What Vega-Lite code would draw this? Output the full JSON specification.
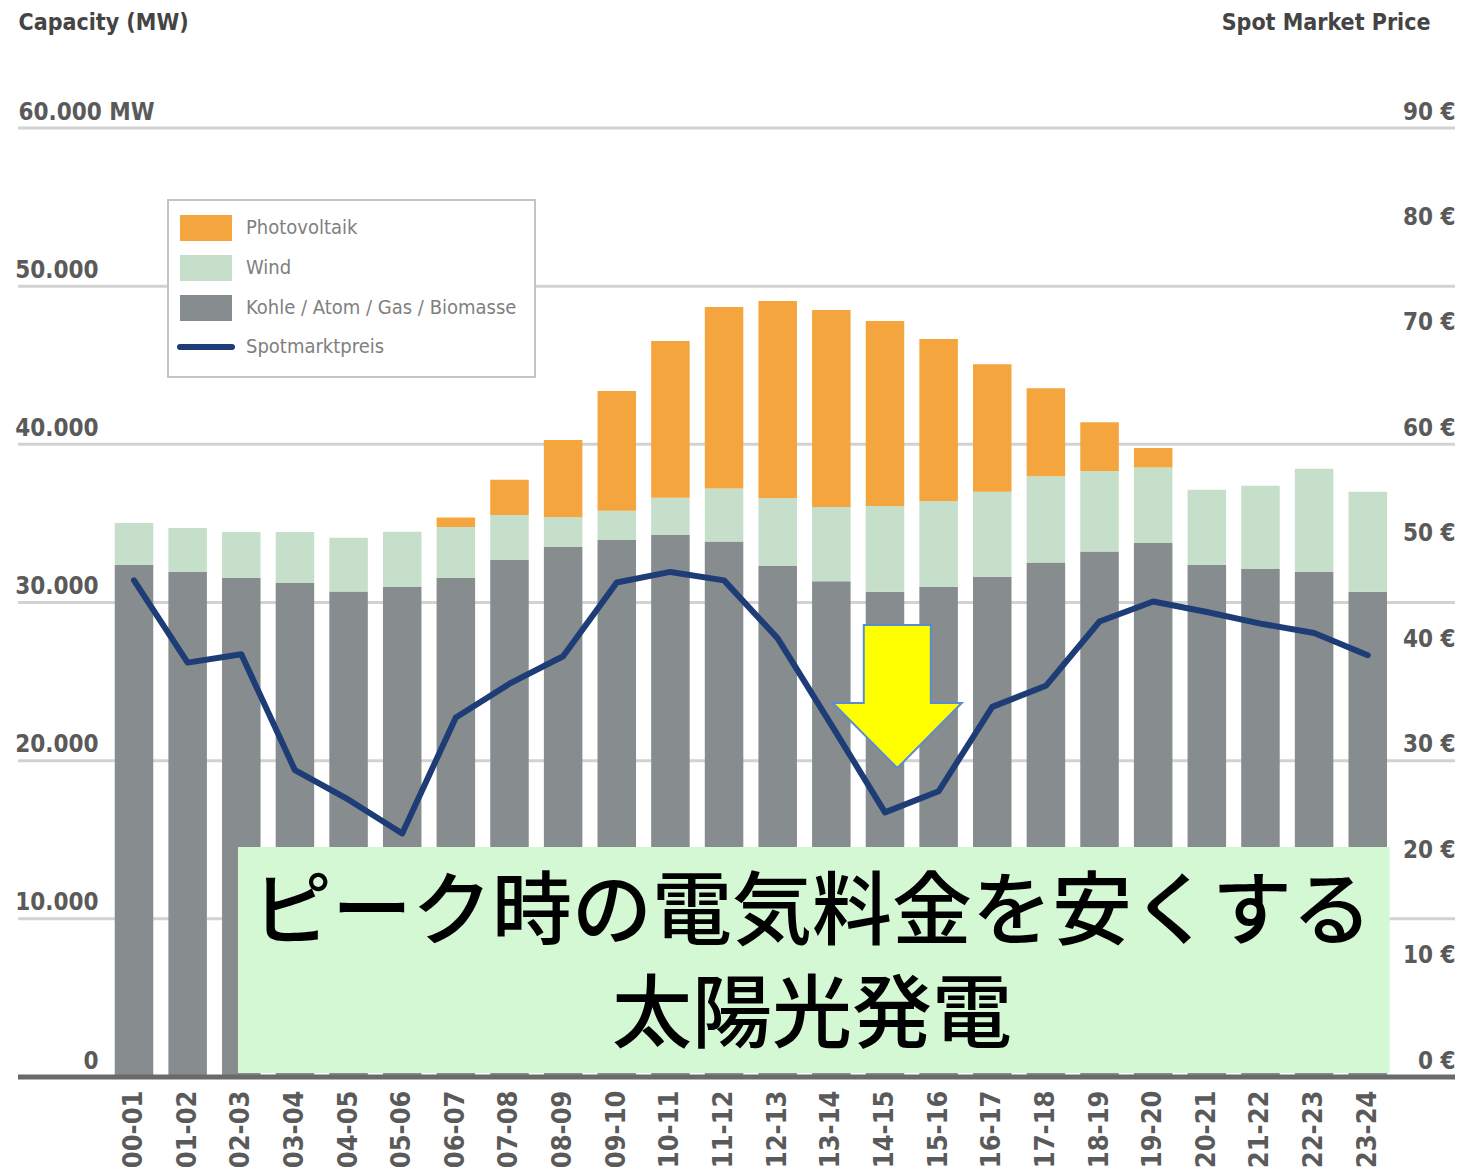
{
  "$schema": "https://vega.github.io/schema/vega-lite/v6.json",
  "width": 1437,
  "height": 949,
  "autosize": {"type": "none"},
  "padding": {"left": 18, "top": 128, "right": 6, "bottom": 96},
  "background": "white",
  "config": {"view": {"stroke": null}, "font": "DejaVu Sans Condensed, Roboto, sans-serif"},
  "datasets": {
    "capacity": [
      {"hour": "00-01", "source": "Kohle / Atom / Gas / Biomasse", "mw": 32370},
      {"hour": "00-01", "source": "Wind", "mw": 2650},
      {"hour": "00-01", "source": "Photovoltaik", "mw": 0},
      {"hour": "01-02", "source": "Kohle / Atom / Gas / Biomasse", "mw": 31930},
      {"hour": "01-02", "source": "Wind", "mw": 2780},
      {"hour": "01-02", "source": "Photovoltaik", "mw": 0},
      {"hour": "02-03", "source": "Kohle / Atom / Gas / Biomasse", "mw": 31550},
      {"hour": "02-03", "source": "Wind", "mw": 2910},
      {"hour": "02-03", "source": "Photovoltaik", "mw": 0},
      {"hour": "03-04", "source": "Kohle / Atom / Gas / Biomasse", "mw": 31230},
      {"hour": "03-04", "source": "Wind", "mw": 3230},
      {"hour": "03-04", "source": "Photovoltaik", "mw": 0},
      {"hour": "04-05", "source": "Kohle / Atom / Gas / Biomasse", "mw": 30700},
      {"hour": "04-05", "source": "Wind", "mw": 3400},
      {"hour": "04-05", "source": "Photovoltaik", "mw": 0},
      {"hour": "05-06", "source": "Kohle / Atom / Gas / Biomasse", "mw": 30980},
      {"hour": "05-06", "source": "Wind", "mw": 3500},
      {"hour": "05-06", "source": "Photovoltaik", "mw": 0},
      {"hour": "06-07", "source": "Kohle / Atom / Gas / Biomasse", "mw": 31550},
      {"hour": "06-07", "source": "Wind", "mw": 3220},
      {"hour": "06-07", "source": "Photovoltaik", "mw": 600},
      {"hour": "07-08", "source": "Kohle / Atom / Gas / Biomasse", "mw": 32680},
      {"hour": "07-08", "source": "Wind", "mw": 2850},
      {"hour": "07-08", "source": "Photovoltaik", "mw": 2230},
      {"hour": "08-09", "source": "Kohle / Atom / Gas / Biomasse", "mw": 33510},
      {"hour": "08-09", "source": "Wind", "mw": 1890},
      {"hour": "08-09", "source": "Photovoltaik", "mw": 4870},
      {"hour": "09-10", "source": "Kohle / Atom / Gas / Biomasse", "mw": 33950},
      {"hour": "09-10", "source": "Wind", "mw": 1850},
      {"hour": "09-10", "source": "Photovoltaik", "mw": 7570},
      {"hour": "10-11", "source": "Kohle / Atom / Gas / Biomasse", "mw": 34270},
      {"hour": "10-11", "source": "Wind", "mw": 2350},
      {"hour": "10-11", "source": "Photovoltaik", "mw": 9910},
      {"hour": "11-12", "source": "Kohle / Atom / Gas / Biomasse", "mw": 33850},
      {"hour": "11-12", "source": "Wind", "mw": 3350},
      {"hour": "11-12", "source": "Photovoltaik", "mw": 11480},
      {"hour": "12-13", "source": "Kohle / Atom / Gas / Biomasse", "mw": 32300},
      {"hour": "12-13", "source": "Wind", "mw": 4300},
      {"hour": "12-13", "source": "Photovoltaik", "mw": 12460},
      {"hour": "13-14", "source": "Kohle / Atom / Gas / Biomasse", "mw": 31350},
      {"hour": "13-14", "source": "Wind", "mw": 4690},
      {"hour": "13-14", "source": "Photovoltaik", "mw": 12450},
      {"hour": "14-15", "source": "Kohle / Atom / Gas / Biomasse", "mw": 30680},
      {"hour": "14-15", "source": "Wind", "mw": 5420},
      {"hour": "14-15", "source": "Photovoltaik", "mw": 11700},
      {"hour": "15-16", "source": "Kohle / Atom / Gas / Biomasse", "mw": 30980},
      {"hour": "15-16", "source": "Wind", "mw": 5430},
      {"hour": "15-16", "source": "Photovoltaik", "mw": 10250},
      {"hour": "16-17", "source": "Kohle / Atom / Gas / Biomasse", "mw": 31610},
      {"hour": "16-17", "source": "Wind", "mw": 5400},
      {"hour": "16-17", "source": "Photovoltaik", "mw": 8060},
      {"hour": "17-18", "source": "Kohle / Atom / Gas / Biomasse", "mw": 32530},
      {"hour": "17-18", "source": "Wind", "mw": 5450},
      {"hour": "17-18", "source": "Photovoltaik", "mw": 5560},
      {"hour": "18-19", "source": "Kohle / Atom / Gas / Biomasse", "mw": 33220},
      {"hour": "18-19", "source": "Wind", "mw": 5100},
      {"hour": "18-19", "source": "Photovoltaik", "mw": 3080},
      {"hour": "19-20", "source": "Kohle / Atom / Gas / Biomasse", "mw": 33760},
      {"hour": "19-20", "source": "Wind", "mw": 4780},
      {"hour": "19-20", "source": "Photovoltaik", "mw": 1230},
      {"hour": "20-21", "source": "Kohle / Atom / Gas / Biomasse", "mw": 32370},
      {"hour": "20-21", "source": "Wind", "mw": 4760},
      {"hour": "20-21", "source": "Photovoltaik", "mw": 0},
      {"hour": "21-22", "source": "Kohle / Atom / Gas / Biomasse", "mw": 32120},
      {"hour": "21-22", "source": "Wind", "mw": 5260},
      {"hour": "21-22", "source": "Photovoltaik", "mw": 0},
      {"hour": "22-23", "source": "Kohle / Atom / Gas / Biomasse", "mw": 31930},
      {"hour": "22-23", "source": "Wind", "mw": 6530},
      {"hour": "22-23", "source": "Photovoltaik", "mw": 0},
      {"hour": "23-24", "source": "Kohle / Atom / Gas / Biomasse", "mw": 30680},
      {"hour": "23-24", "source": "Wind", "mw": 6320},
      {"hour": "23-24", "source": "Photovoltaik", "mw": 0}
    ],
    "price": [
      {"hour": "00-01", "price": 47.1},
      {"hour": "01-02", "price": 39.3},
      {"hour": "02-03", "price": 40.1},
      {"hour": "03-04", "price": 29.1},
      {"hour": "04-05", "price": 26.3},
      {"hour": "05-06", "price": 23.1},
      {"hour": "06-07", "price": 34.1},
      {"hour": "07-08", "price": 37.3},
      {"hour": "08-09", "price": 39.9},
      {"hour": "09-10", "price": 46.9},
      {"hour": "10-11", "price": 47.9},
      {"hour": "11-12", "price": 47.1},
      {"hour": "12-13", "price": 41.6},
      {"hour": "13-14", "price": 33.4},
      {"hour": "14-15", "price": 25.1},
      {"hour": "15-16", "price": 27.1},
      {"hour": "16-17", "price": 35.1},
      {"hour": "17-18", "price": 37.1},
      {"hour": "18-19", "price": 43.2},
      {"hour": "19-20", "price": 45.1},
      {"hour": "20-21", "price": 44.1},
      {"hour": "21-22", "price": 43.0},
      {"hour": "22-23", "price": 42.1},
      {"hour": "23-24", "price": 40.0}
    ],
    "gridValues": [
      {"mw": 10000}, {"mw": 20000}, {"mw": 30000}, {"mw": 40000}, {"mw": 50000}, {"mw": 60000}
    ]
  },
  "layer": [
    {
      "data": {"name": "gridValues"},
      "mark": {"type": "rule", "color": "#d2d2d2", "strokeWidth": 3},
      "encoding": {
        "y": {"field": "mw", "type": "quantitative", "scale": {"domain": [0, 60000], "nice": false}, "axis": null}
      }
    },
    {
      "data": {"name": "capacity"},
      "transform": [
        {"calculate": "indexof(['Kohle / Atom / Gas / Biomasse','Wind','Photovoltaik'], datum.source)", "as": "stackOrder"}
      ],
      "mark": {"type": "bar"},
      "encoding": {
        "x": {
          "field": "hour",
          "type": "nominal",
          "scale": {"range": [96.75, 1369], "paddingInner": 0.282, "paddingOuter": 0},
          "axis": {
            "orient": "bottom",
            "title": null,
            "labelAngle": -90,
            "labelAlign": "right",
            "labelBaseline": "middle",
            "labelPadding": 13,
            "ticks": false,
            "grid": false,
            "domain": false,
            "labelFont": "DejaVu Sans Condensed, Roboto, sans-serif",
            "labelFontSize": 27,
            "labelFontWeight": "bold",
            "labelColor": "#5a5a5a"
          }
        },
        "y": {
          "field": "mw",
          "type": "quantitative",
          "stack": "zero",
          "scale": {"domain": [0, 60000], "nice": false},
          "axis": {
            "orient": "left",
            "values": [0, 10000, 20000, 30000, 40000, 50000, 60000],
            "grid": false,
            "domain": false,
            "ticks": false,
            "tickSize": 0,
            "labelExpr": "datum.value === 0 ? '0' : (datum.value/1000) + '.000' + (datum.value === 60000 ? ' MW' : '')",
            "labelAlign": {"condition": {"test": "datum.value === 60000", "value": "left"}, "value": "right"},
            "labelPadding": {"condition": {"test": "datum.value === 60000", "value": 0}, "value": -80},
            "labelBaseline": "alphabetic",
            "labelOffset": -9,
            "labelBound": false,
            "labelOverlap": false,
            "labelFlush": false,
            "labelFont": "DejaVu Sans Condensed, Roboto, sans-serif",
            "labelFontSize": 24,
            "labelFontWeight": "bold",
            "labelColor": "#5a5a5a",
            "title": "Capacity (MW)",
            "titleAngle": 0,
            "titleAlign": "left",
            "titleBaseline": "middle",
            "titleX": 0,
            "titleY": -106,
            "titleFont": "DejaVu Sans Condensed, Roboto, sans-serif",
            "titleFontSize": 23,
            "titleFontWeight": "bold",
            "titleColor": "#444444"
          }
        },
        "color": {
          "field": "source",
          "type": "nominal",
          "scale": {
            "domain": ["Photovoltaik", "Wind", "Kohle / Atom / Gas / Biomasse", "Spotmarktpreis"],
            "range": ["#f4a53d", "#c6dfca", "#878c8e", "#1e3c76"]
          },
          "legend": {
            "orient": "none",
            "legendX": 150,
            "legendY": 72,
            "title": null,
            "direction": "vertical",
            "padding": 18,
            "strokeColor": "#c4c4c4",
            "fillColor": "#ffffff",
            "symbolType": "M-1,-0.5L1,-0.5L1,0.5L-1,0.5Z",
            "symbolSize": 2704,
            "symbolStrokeWidth": 0,
            "symbolOffset": 10,
            "labelFont": "DejaVu Sans Condensed, Roboto, sans-serif",
            "labelFontSize": 20,
            "labelColor": "#808080",
            "labelOffset": 30,
            "labelLimit": 400,
            "rowPadding": 14,
            "encode": {
              "legend": {"update": {"strokeWidth": {"value": 2}}},
              "symbols": {
                "update": {
                  "shape": {"signal": "datum.value === 'Spotmarktpreis' ? 'M-1,0L1,0' : 'M-1,-0.5L1,-0.5L1,0.5L-1,0.5Z'"},
                  "stroke": {"signal": "datum.value === 'Spotmarktpreis' ? '#1e3c76' : 'transparent'"},
                  "strokeWidth": {"signal": "datum.value === 'Spotmarktpreis' ? 6 : 0"},
                  "strokeCap": {"value": "round"}
                }
              }
            }
          }
        },
        "order": {"field": "stackOrder", "type": "quantitative"}
      }
    },
    {
      "data": {"values": [{}]},
      "mark": {"type": "rule", "color": "#6a6a6a", "strokeWidth": 5},
      "encoding": {
        "y": {"datum": 0, "type": "quantitative", "scale": {"domain": [0, 60000], "nice": false}, "axis": null}
      }
    },
    {
      "data": {"name": "price"},
      "mark": {"type": "line", "strokeWidth": 6, "strokeJoin": "round", "strokeCap": "round"},
      "encoding": {
        "x": {"field": "hour", "type": "nominal"},
        "y": {
          "field": "price",
          "type": "quantitative",
          "scale": {"domain": [0, 90], "nice": false},
          "axis": {
            "orient": "right",
            "values": [0, 10, 20, 30, 40, 50, 60, 70, 80, 90],
            "grid": false,
            "domain": false,
            "ticks": false,
            "tickSize": 0,
            "labelExpr": "datum.value + ' €'",
            "labelAlign": "right",
            "labelPadding": 0,
            "labelBaseline": "alphabetic",
            "labelOffset": -9,
            "labelBound": false,
            "labelOverlap": false,
            "labelFlush": false,
            "labelFont": "DejaVu Sans Condensed, Roboto, sans-serif",
            "labelFontSize": 24,
            "labelFontWeight": "bold",
            "labelColor": "#5a5a5a",
            "title": "Spot Market Price",
            "titleAngle": 0,
            "titleAlign": "right",
            "titleBaseline": "middle",
            "titleX": -25,
            "titleY": -106,
            "titleFont": "DejaVu Sans Condensed, Roboto, sans-serif",
            "titleFontSize": 23,
            "titleFontWeight": "bold",
            "titleColor": "#444444"
          }
        },
        "color": {"datum": "Spotmarktpreis"}
      }
    },
    {
      "data": {"values": [{}]},
      "mark": {"type": "rect", "fill": "#d4f8d4"},
      "encoding": {
        "x": {"datum": "02-03", "bandPosition": 0.414},
        "x2": {"datum": "23-24", "bandPosition": 1.07},
        "y": {"datum": 250, "type": "quantitative", "scale": {"domain": [0, 60000], "nice": false}, "axis": null},
        "y2": {"datum": 14540}
      }
    },
    {
      "data": {"values": [{}]},
      "mark": {
        "type": "text",
        "text": "ピーク時の電気料金を安くする",
        "font": "Noto Sans CJK JP",
        "fontSize": 80,
        "fontWeight": 500,
        "align": "center",
        "baseline": "middle",
        "color": "#000000"
      },
      "encoding": {
        "x": {"datum": "13-14", "bandPosition": 0},
        "y": {"datum": 10300, "type": "quantitative", "scale": {"domain": [0, 60000], "nice": false}, "axis": null}
      }
    },
    {
      "data": {"values": [{}]},
      "mark": {
        "type": "text",
        "text": "太陽光発電",
        "font": "Noto Sans CJK JP",
        "fontSize": 80,
        "fontWeight": 500,
        "align": "center",
        "baseline": "middle",
        "color": "#000000"
      },
      "encoding": {
        "x": {"datum": "13-14", "bandPosition": 0},
        "y": {"datum": 3800, "type": "quantitative", "scale": {"domain": [0, 60000], "nice": false}, "axis": null}
      }
    },
    {
      "data": {"values": [{}]},
      "mark": {
        "type": "point",
        "shape": "M-0.469,-1L0.469,-1L0.469,0.091L0.902,0.091L0,1L-0.902,0.091L-0.469,0.091Z",
        "size": 20449,
        "filled": true,
        "fill": "#ffff00",
        "stroke": "#5b8bd0",
        "strokeWidth": 2,
        "opacity": 1
      },
      "encoding": {
        "x": {"datum": "14-15", "bandPosition": 0.82},
        "y": {"datum": 24055, "type": "quantitative", "scale": {"domain": [0, 60000], "nice": false}, "axis": null}
      }
    }
  ],
  "resolve": {"scale": {"y": "independent"}}
}
